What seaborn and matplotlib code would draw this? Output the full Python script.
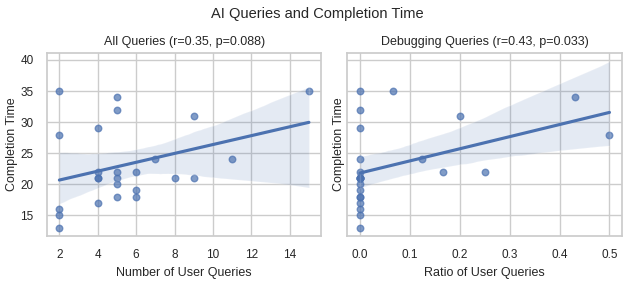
import numpy as np
import pandas as pd
import matplotlib
matplotlib.use('Agg')
import matplotlib.pyplot as plt
import seaborn as sns

# data
num_queries = [2, 2, 2, 2, 2, 4, 4, 4, 4, 4, 5, 5, 5, 5, 5, 5, 6, 6, 6, 7, 8, 9, 9, 11, 15]
completion_time = [35, 28, 16, 15, 13, 29, 22, 21, 21, 17, 34, 32, 22, 21, 20, 18, 22, 19, 18, 24, 21, 31, 21, 24, 35]
debug_ratio = [0, 0.5, 0, 0, 0, 0, 0.25, 0, 0, 0, 0.43, 0, 0, 0, 0, 0, 0.167, 0, 0, 0, 0, 0.2, 0, 0.125, 0.067]

df = pd.DataFrame({'queries': num_queries, 'time': completion_time, 'ratio': debug_ratio})

sns.set_theme(style='whitegrid')
plt.rcParams['font.family'] = ['Liberation Sans', 'DejaVu Sans']

fig, axes = plt.subplots(1, 2, figsize=(6.34, 2.82), dpi=100, sharey=True)
pts = {'s': 22, 'alpha': 0.7}

sns.regplot(x='queries', y='time', data=df, ax=axes[0], seed=0, scatter_kws=pts)
axes[0].set_title('All Queries (r=0.35, p=0.088)', fontsize=9)
axes[0].set_xlabel('Number of User Queries', fontsize=9)
axes[0].set_ylabel('Completion Time', fontsize=9, labelpad=2)

sns.regplot(x='ratio', y='time', data=df, ax=axes[1], seed=0, scatter_kws=pts)
axes[1].set_title('Debugging Queries (r=0.43, p=0.033)', fontsize=9)
axes[1].set_xlabel('Ratio of User Queries', fontsize=9)
axes[1].set_ylabel('Completion Time', fontsize=9, labelpad=2)
axes[1].tick_params(labelleft=False)

for ax in axes:
    ax.tick_params(labelsize=8.5)
axes[0].set_xticks([2, 4, 6, 8, 10, 12, 14])
axes[0].set_yticks([15, 20, 25, 30, 35, 40])

fig.suptitle('AI Queries and Completion Time', fontsize=10.5, y=0.975)
fig.subplots_adjust(left=0.074, right=0.981, top=0.812, bottom=0.163, wspace=0.095)
fig.savefig('out.png', dpi=100)
